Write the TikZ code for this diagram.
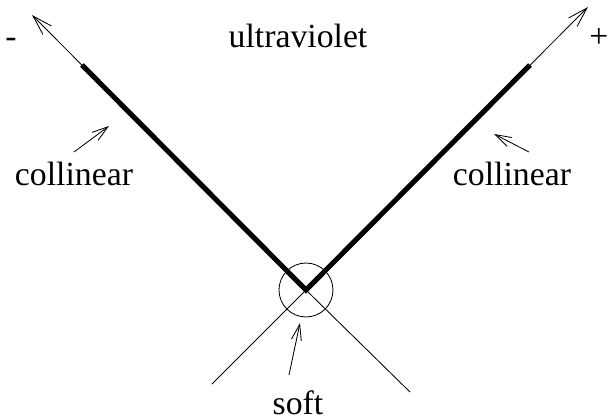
\documentclass[tikz,border=0pt]{standalone}
\usepackage{fontspec}
\setmainfont{Liberation Serif}
\usetikzlibrary{arrows.meta}

\begin{document}
\begin{tikzpicture}[
        jet/.style={line width=3.6pt},
        outgoing/.style={-{Straight Barb[length=0.5cm, width=0.3cm]}, line width=0.6pt},
        hint/.style={-{Straight Barb[length=0.4cm, width=0.25cm]}, line width=0.6pt},
        tag/.style={anchor=base, font=\fontsize{24}{28}\selectfont, inner sep=0pt}
    ]
        \useasboundingbox (-7.65, -3.25) rectangle (7.55, 7.25);

        % Vertex with soft region
        \coordinate (v) at (0, 0);
        \node[circle, draw, line width=0.6pt, minimum size=1.35cm, inner sep=0pt] (blob) at (v) {};

        % Incoming lines
        \coordinate (in left) at (-2.35, -2.35);
        \coordinate (in right) at (2.6, -2.55);
        \draw[line width=0.6pt] (in left) -- (v) -- (in right);

        % Outgoing lines with collinear parts
        \coordinate (minus end) at (-6.85, 6.875);
        \coordinate (plus end) at (7.05, 7.075);
        \coordinate (coll left) at (-5.6, 5.625);
        \coordinate (coll right) at (5.6, 5.625);
        \draw[outgoing] (v) -- (minus end);
        \draw[outgoing] (v) -- (plus end);
        \draw[jet] (coll left) -- (v) -- (coll right);

        % Labels
        \node[tag] (uv) at (-0.2, 6.05) {ultraviolet};
        \node[tag] (minus) at (-7.375, 6.05) {-};
        \node[tag] (plus) at (7.325, 6.05) {+};
        \node[tag] (cl) at (-5.8, 2.6) {collinear};
        \node[tag] (cr) at (5.15, 2.6) {collinear};
        \node[tag] (soft) at (-0.2, -3.1) {soft};

        % Pointers
        \coordinate (cl from) at (-5.8, 3.45);
        \coordinate (cl to) at (-4.925, 4.1);
        \coordinate (cr from) at (5.575, 3.45);
        \coordinate (cr to) at (4.7, 3.9);
        \coordinate (soft from) at (-0.425, -2.125);
        \coordinate (soft to) at (-0.15, -0.825);
        \draw[hint] (cl from) -- (cl to);
        \draw[hint] (cr from) -- (cr to);
        \draw[hint] (soft from) -- (soft to);
    \end{tikzpicture}
\end{document}
